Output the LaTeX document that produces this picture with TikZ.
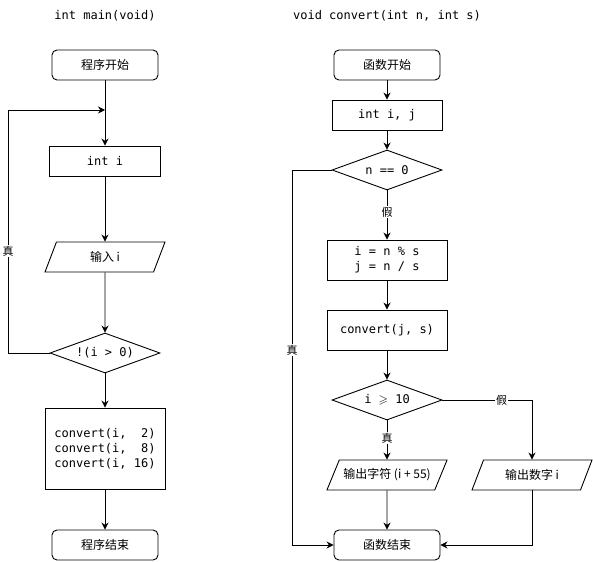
\documentclass[tikz,border=0pt]{standalone}
\usepackage{fontspec}
\usepackage{amssymb}
\setmainfont{Noto Sans CJK SC}
\setmonofont{DejaVu Sans Mono}
\usetikzlibrary{shapes.geometric,arrows.meta}
\tikzset{
  box/.style={draw, minimum width=110, minimum height=30, font=\ttfamily},
  term/.style={draw, rounded corners=5, minimum width=106, minimum height=30},
  cond/.style={draw, diamond, aspect=2.75, minimum width=110, minimum height=40,
    inner sep=0, font=\ttfamily},
  io/.style={draw, trapezium, trapezium left angle=59, trapezium right angle=121,
    trapezium stretches body, minimum width=120, minimum height=30},
  arr/.style={-{Stealth[length=7pt,width=7pt]}},
  lbl/.style={fill=white, inner sep=1pt, font=\fontsize{11}{11}\selectfont},
}
\begin{document}
\fontsize{12}{15}\selectfont
\begin{tikzpicture}[x=1pt, y=-1pt, line width=0.9pt]
    \useasboundingbox (0,0) rectangle (593,561);
    %main
    \node[font=\ttfamily] (mtitle) at (105,16) {int main(void)};
    \node[term] (mstart) at (105,65) {程序开始};
    \node[box, minimum width=111] (mint) at (105,161) {int i};
    \node[io] (minput) at (105,257) {输入 i};
    \node[cond] (mcheck) at (105,353) {!(i > 0)};
    \node[box, minimum width=120, minimum height=81, align=left] (mcall) at (105,448.5)
        {convert(i,~~2)\\convert(i,~~8)\\convert(i,~16)};
    \node[term] (mend) at (105,545) {程序结束};
    \coordinate (mjoin) at (105,110);
    \coordinate (mloop) at (8,110);
    \draw[arr] (mstart) -- (mint);
    \draw[arr] (mint) -- (minput);
    \draw[arr] (minput) -- (mcheck);
    \draw[arr] (mcheck) -- (mcall);
    \draw[arr] (mcall) -- (mend);
    \draw[arr] (mcheck.west) -| node[lbl, pos=0.71] {真} (mloop) -- (mjoin);
    %convert
    \node[font=\ttfamily] (ctitle) at (387,16) {void convert(int n, int s)};
    \node[term] (cstart) at (387,65) {函数开始};
    \node[box] (cint) at (387,115) {int i, j};
    \node[cond] (czero) at (387,170) {n == 0};
    \node[box, minimum width=120, minimum height=40, align=center] (cdiv) at (387,260)
        {i = n \% s\\j = n / s};
    \node[box, minimum width=120, minimum height=40] (crec) at (387,330) {convert(j, s)};
    \node[cond] (cge) at (387,400) {i $\geqslant$ 10};
    \node[io] (cchar) at (387,475) {输出字符 (i + 55)};
    \node[io] (cnum) at (532,475) {输出数字 i};
    \node[term] (cend) at (387,545) {函数结束};
    \coordinate (cleft) at (292,170);
    \draw[arr] (cstart) -- (cint);
    \draw[arr] (cint) -- (czero);
    \draw[arr] (czero) -- node[lbl, pos=0.44] {假} (cdiv);
    \draw[arr] (cdiv) -- (crec);
    \draw[arr] (crec) -- (cge);
    \draw[arr] (cge) -- node[lbl, pos=0.45] {真} (cchar);
    \draw[arr] (cchar) -- (cend);
    \draw[arr] (cge.east) -| node[lbl, pos=0.33] {假} (cnum.north);
    \draw[arr] (cnum.south) |- (cend.east);
    \draw[arr] (czero.west) -- (cleft) |- node[lbl, pos=0.24] {真} (cend.west);
\end{tikzpicture}
\end{document}
